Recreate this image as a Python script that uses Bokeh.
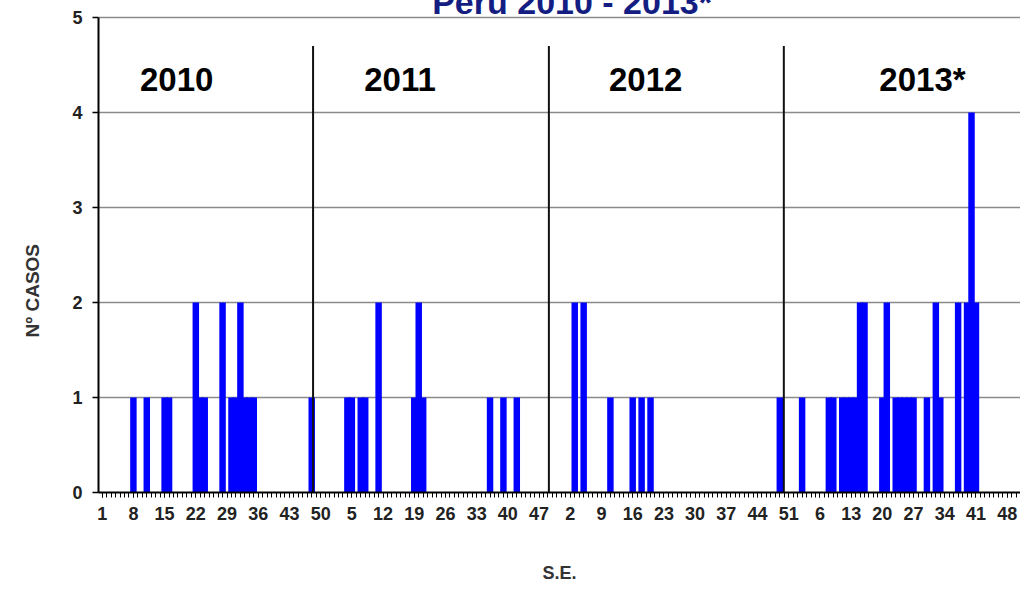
from bokeh.plotting import figure
from bokeh.models import Range1d, FixedTicker, Label, ColumnDataSource, Title
from bokeh.core.properties import value
from bokeh.embed import file_html
from bokeh.resources import INLINE

# ---------------- data ----------------
years = [2010, 2011, 2012, 2013]
weeks_per_year = 52

weeks_2010 = [8, 11, 15, 16, 22, 23, 24, 28, 30, 31, 32, 33, 34, 35, 48]
cases_2010 = [1, 1, 1, 1, 2, 1, 1, 2, 1, 1, 2, 1, 1, 1, 1]

weeks_2011 = [4, 5, 7, 8, 11, 19, 20, 21, 36, 39, 42]
cases_2011 = [1, 1, 1, 1, 2, 1, 2, 1, 1, 1, 1]

weeks_2012 = [3, 5, 11, 16, 18, 20, 49]
cases_2012 = [2, 2, 1, 1, 1, 1, 1]

weeks_2013 = [2, 8, 9, 11, 12, 13, 14, 15, 16, 20, 21, 23, 24, 25, 26, 27,
              30, 32, 33, 37, 39, 40, 41]
cases_2013 = [1, 1, 1, 1, 1, 1, 1, 2, 2, 1, 2, 1, 1, 1, 1, 1,
              1, 2, 1, 2, 2, 4, 2]

x_tick_labels = ["1", "8", "15", "22", "29", "36", "43", "50",
                 "5", "12", "19", "26", "33", "40", "47",
                 "2", "9", "16", "23", "30", "37", "44", "51",
                 "6", "13", "20", "27", "34", "41", "48"]
y_ticks = [0, 1, 2, 3, 4, 5]
year_labels = ["2010", "2011", "2012", "2013*"]
title_text = "Peru 2010 - 2013*"
y_label = "Nº CASOS"
x_label = "S.E."

# ---------------- build series on a continuous week index ----------------
all_weeks = [weeks_2010, weeks_2011, weeks_2012, weeks_2013]
all_cases = [cases_2010, cases_2011, cases_2012, cases_2013]
idx, counts = [], []
for yi, (wk, cs) in enumerate(zip(all_weeks, all_cases)):
    for w, c in zip(wk, cs):
        idx.append(yi * weeks_per_year + w)
        counts.append(c)
src = ColumnDataSource(dict(x=idx, top=counts))

tick_pos = [1 + 7 * i for i in range(len(x_tick_labels))]

FONT = "Liberation Sans"
X0, X1 = 0.17, 206.99

p = figure(width=1028, height=597, output_backend="svg", toolbar_location=None,
           x_range=Range1d(X0, X1), y_range=Range1d(0, 5.263),
           min_border_left=106, min_border_right=0, min_border_top=0,
           min_border_bottom=97)
p.margin = (-8, -8, -8, -8)
p.outline_line_color = None
p.background_fill_color = "white"
p.border_fill_color = "white"

# grid
p.xgrid.visible = False
p.ygrid.ticker = FixedTicker(ticks=y_ticks)
p.ygrid.grid_line_color = "#8a8a8a"
p.ygrid.grid_line_width = 1.6

# bars
p.vbar(x="x", top="top", bottom=0, width=1.45, source=src,
       fill_color="#0000ff", line_color=None)

# year dividers
divider_idx = [48.3, 101.2, 153.9]
p.segment(x0=divider_idx, y0=[0] * 3, x1=divider_idx, y1=[4.7] * 3,
          line_color="#111111", line_width=2)

# year labels
p.text(x=[17.7, 67.8, 122.9, 185.0], y=[4.348] * 4, text=year_labels,
       text_font=value(FONT), text_font_style="bold", text_font_size="33px",
       text_align="center", text_baseline="middle", text_color="black")

# axes
xa = p.xaxis[0]
xa.ticker = FixedTicker(ticks=tick_pos, minor_ticks=list(range(1, 208)))
xa.major_label_overrides = {t: l for t, l in zip(tick_pos, x_tick_labels)}
xa.major_label_text_font = FONT
xa.major_label_text_font_style = "bold"
xa.major_label_text_font_size = "18px"
xa.major_label_text_color = "#222222"
xa.major_label_standoff = 9
xa.major_tick_out = 5
xa.major_tick_in = 0
xa.minor_tick_out = 5
xa.minor_tick_in = 0
xa.axis_line_width = 2
xa.axis_line_color = "black"
xa.major_tick_line_color = "black"
xa.minor_tick_line_color = "black"
xa.axis_label = x_label
xa.axis_label_text_font = FONT
xa.axis_label_text_font_style = "bold"
xa.axis_label_text_font_size = "18px"
xa.axis_label_text_color = "#333333"
xa.axis_label_standoff = 40

ya = p.yaxis[0]
ya.ticker = FixedTicker(ticks=y_ticks)
ya.bounds = (0, 5)
ya.axis_line_color = "black"
ya.axis_line_width = 2
ya.major_label_text_font = FONT
ya.major_label_text_font_style = "bold"
ya.major_label_text_font_size = "18px"
ya.major_label_text_color = "#222222"
ya.major_label_standoff = 10
ya.major_tick_out = 6
ya.major_tick_in = 0
ya.major_tick_line_width = 1.5
ya.minor_tick_line_color = None

# y axis title as a side title (so it can be offset along the axis)
p.add_layout(Title(text=y_label, align="left", offset=155, standoff=54,
                   text_font=FONT, text_font_style="bold",
                   text_font_size="19px", text_color="#333333"), "left")

# chart title (cut at the top edge, as in the reference)
p.add_layout(Label(x=106.4, y=5.167, text=title_text, text_font=FONT,
                   text_font_style="bold", text_font_size="34px",
                   text_color="#141e82", text_align="center",
                   text_baseline="middle"))

open("out.html", "w").write(file_html(p, INLINE))
